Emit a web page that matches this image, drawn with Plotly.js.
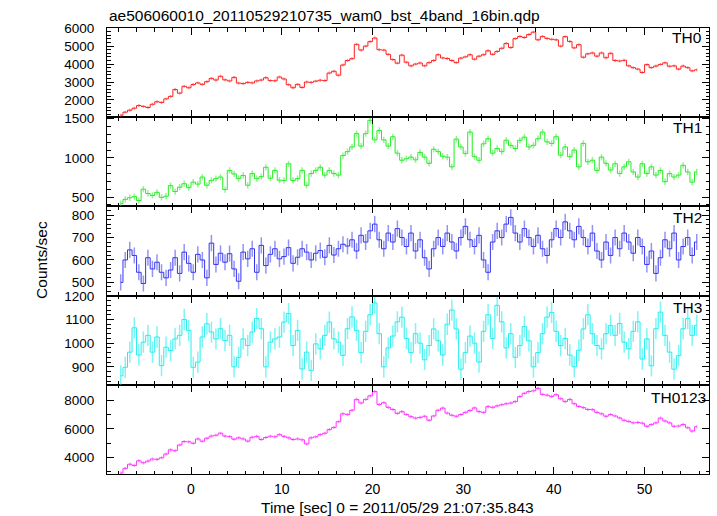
<!DOCTYPE html>
<html>
<head>
<meta charset="utf-8">
<script src="https://cdn.plot.ly/plotly-3.0.1.min.js"></script>
<style>html,body{margin:0;padding:0;background:#fff;}#plot{width:717px;height:516px;}</style>
</head>
<body>
<div id="plot"></div>
<script>
// Bin centres (sec), 0.5 s bins
var timeSec = [-7.75,-7.25,-6.75,-6.25,-5.75,-5.25,-4.75,-4.25,-3.75,-3.25,-2.75,-2.25,-1.75,-1.25,-0.75,-0.25,
0.25,0.75,1.25,1.75,2.25,2.75,3.25,3.75,4.25,4.75,5.25,5.75,6.25,6.75,7.25,7.75,
8.25,8.75,9.25,9.75,10.25,10.75,11.25,11.75,12.25,12.75,13.25,13.75,14.25,14.75,15.25,15.75,
16.25,16.75,17.25,17.75,18.25,18.75,19.25,19.75,20.25,20.75,21.25,21.75,22.25,22.75,23.25,23.75,
24.25,24.75,25.25,25.75,26.25,26.75,27.25,27.75,28.25,28.75,29.25,29.75,30.25,30.75,31.25,31.75,
32.25,32.75,33.25,33.75,34.25,34.75,35.25,35.75,36.25,36.75,37.25,37.75,38.25,38.75,39.25,39.75,
40.25,40.75,41.25,41.75,42.25,42.75,43.25,43.75,44.25,44.75,45.25,45.75,46.25,46.75,47.25,47.75,
48.25,48.75,49.25,49.75,50.25,50.75,51.25,51.75,52.25,52.75,53.25,53.75,54.25,54.75,55.25,55.75];

var th0 = [1150,1320,1430,1540,1690,1640,1580,1760,1900,1860,2060,2200,2580,2380,2760,2680,
2860,2950,2870,3020,3200,3110,3320,3120,3060,3260,2940,2910,2980,2950,3060,3110,
3240,3080,3070,3280,3170,2850,2680,2870,2700,3000,2980,3050,3100,3080,3500,3600,
3380,3950,4200,4300,5100,4780,5000,5250,5450,4800,4780,4540,4250,4050,4500,4100,
3900,4000,4060,3900,4080,4200,4520,4340,4310,4200,4080,4330,4400,4520,4270,4440,
4520,4740,4540,4700,4880,5150,4920,5420,5540,5480,5650,5780,5350,5540,5430,5380,
5350,5000,5530,5260,4900,5080,4380,4570,4620,4440,4620,4350,4600,4200,4170,4210,
3900,3800,3720,3530,3970,3800,3890,3980,4070,3880,3900,3720,3890,3800,3620,3680];

var th1 = [415,470,490,505,455,600,545,520,560,495,510,645,570,625,670,620,
690,665,755,650,712,735,755,595,840,795,735,775,650,800,735,760,
880,740,840,715,712,925,712,735,840,650,800,840,880,780,840,800,
780,1030,1080,1140,1310,1150,1310,1480,1230,1350,1230,1150,1270,1060,970,990,
1010,975,1070,1010,930,1110,1080,1020,1010,885,1240,1140,1055,1330,1015,970,
1180,1245,1060,1120,1080,1225,1160,1120,1225,1265,1140,1160,1245,1330,1205,1185,
1270,1035,1140,1015,1100,885,1185,950,970,840,1010,930,845,925,800,885,
950,820,755,925,800,885,780,840,695,800,755,780,905,820,690,820];

var th2 = [500,600,645,620,545,495,610,560,590,545,520,555,610,540,635,585,
545,625,600,520,675,580,630,590,628,560,505,635,605,650,545,665,
575,625,650,605,615,655,585,612,650,635,600,630,642,612,665,622,
650,670,662,690,640,710,680,730,760,690,650,720,680,740,700,660,
720,640,690,610,560,650,700,660,720,680,640,700,750,690,660,710,
600,545,680,730,700,760,790,720,680,740,700,660,710,650,620,690,
740,700,770,730,690,750,700,660,720,640,600,680,620,700,650,720,
680,630,700,660,580,640,540,610,690,650,720,600,660,700,620,680];

var th3 = [862,898,962,1065,950,1004,1033,962,1026,905,983,969,1018,1033,1100,1054,
898,920,1026,1082,1047,1018,1061,1011,1033,900,940,1018,990,1047,1104,1061,
900,1004,1018,1026,1089,1125,990,1054,891,962,885,997,976,1033,1089,1018,
1004,948,1061,1111,1054,960,1050,1120,1170,1040,900,980,1030,1090,1110,1020,
960,1040,1000,930,990,1060,1010,950,1080,1140,1060,890,960,1030,1000,920,
1050,1120,1020,1160,1090,980,1040,940,990,1070,1010,900,960,1040,1110,1130,
1050,990,1020,950,900,970,1060,1120,1040,990,976,1040,1075,1033,1083,1004,
976,1050,1090,933,1018,904,1061,1131,1033,962,890,947,1061,1104,1033,1075];

var th0123 = [2920,3250,3540,3450,3780,3640,3760,3900,3880,3990,4250,4540,4480,4880,5120,5100,
5000,5300,5140,5350,5500,5560,5700,5500,5460,5280,5380,5300,5150,5420,5480,5260,
5400,5490,5450,5600,5480,5380,5260,5300,5240,4950,5380,5450,5600,5700,5950,6100,
6500,7050,7000,7300,8050,7800,8050,8300,8600,7700,7820,7500,7350,7080,7200,7000,
6850,6750,6800,6880,6600,6900,7300,7450,7100,6950,6880,7000,7150,7280,7460,7200,
7150,7550,7500,7600,7680,7750,7800,7900,8250,8480,8600,8650,8820,8400,8350,8260,
8380,8100,7900,8050,7750,7560,7480,7350,7340,7150,7050,6880,7000,6900,6760,6600,
6520,6420,6450,6400,6180,6300,6420,6750,6550,6420,6180,6200,6300,6080,5850,6150];

var bandNames = ['TH0','TH1','TH2','TH3','TH0123'];
var bandErr = [80, 40, 36, 45, 110];   // typical 1-sigma rate error per band

var series = [th0, th1, th2, th3, th0123];
var colors = ['#ff2020','#22ee22','#3333ee','#22eeee','#ff33ff'];
var errColors = ['rgba(255,60,60,0.55)','rgba(40,230,40,0.5)','rgba(60,60,238,0.55)','rgba(40,238,238,0.6)','rgba(255,60,255,0.55)'];
// panel order top->bottom: TH0 (y5) ... TH0123 (y)
var yNames = ['y5','y4','y3','y2','y'];
var xNames = ['x5','x4','x3','x2','x'];
var yRanges = [[1040,6010],[380,1520],[441,839],[824,1201],[2860,9070]];
var yDticks = [1000,500,100,100,2000];
var yMinor = [200,100,20,20,1000];

var traces = series.map(function(v,k){
  return {
    x: timeSec, y: v, type:'scatter', mode:'lines',
    xaxis: xNames[k], yaxis: yNames[k],
    line:{color:colors[k], width:1, shape:'hvh'},
    error_y:{type:'constant', value:bandErr[k], width:0, thickness:1.5, color:errColors[k]},
    hoverinfo:'skip', showlegend:false
  };
});

var font = 'Liberation Sans, Arial, Helvetica, sans-serif';
function xax(anchor, labels){
  return {
    anchor: anchor, domain:[0,1], range:[-9.26,57.1], tick0:0, dtick:10,
    ticks:'inside', ticklen:7, tickwidth:1, tickcolor:'#000',
    minor:{dtick:2, ticks:'inside', ticklen:3.5, tickwidth:1, tickcolor:'#000'},
    showline:true, linecolor:'#000', linewidth:1, mirror:'allticks',
    showgrid:false, zeroline:false, showticklabels:labels,
    ticklabelstandoff:2,
    tickfont:{family:font, size:14, color:'#000'}
  };
}
function yax(k, anchor){
  var n = 4-k; // bottom panel index 0
  return {
    anchor: anchor, domain:[n*0.2, (n+1)*0.2], range:yRanges[k], dtick:yDticks[k], tick0:0,
    ticks:'inside', ticklen:7, tickwidth:1, tickcolor:'#000',
    minor:{dtick:yMinor[k], ticks:'inside', ticklen:3.5, tickwidth:1, tickcolor:'#000'},
    showline:true, linecolor:'#000', linewidth:1, mirror:'allticks',
    showgrid:false, zeroline:false, ticklabelstandoff:9,
    tickfont:{family:font, size:13.5, color:'#000'}
  };
}

var layout = {
  width:717, height:516,
  margin:{l:107, r:8, t:28, b:42, pad:0},
  paper_bgcolor:'#fff', plot_bgcolor:'#fff',
  font:{family:font, size:14, color:'#000'},
  showlegend:false,
  xaxis: xax('y', true),
  xaxis2: Object.assign(xax('y2', false), {matches:'x'}),
  xaxis3: Object.assign(xax('y3', false), {matches:'x'}),
  xaxis4: Object.assign(xax('y4', false), {matches:'x'}),
  xaxis5: Object.assign(xax('y5', false), {matches:'x'}),
  yaxis: yax(4,'x'),
  yaxis2: yax(3,'x2'),
  yaxis3: yax(2,'x3'),
  yaxis4: yax(1,'x4'),
  yaxis5: yax(0,'x5'),
  annotations: [
    {text:'ae506060010_20110529210735_wam0_bst_4band_16bin.qdp', xref:'paper', yref:'paper',
     x:0, y:1.029, xanchor:'left', yanchor:'middle', showarrow:false, font:{family:font, size:15.5}},
    {text:'Time [sec] 0 = 2011/05/29 21:07:35.843', xref:'paper', yref:'paper',
     x:0.4826, y:-0.0745, xanchor:'center', yanchor:'middle', showarrow:false, font:{family:font, size:15.5}},
    {text:'Counts/sec', xref:'paper', yref:'paper', textangle:-90,
     x:-0.108, y:0.48, xanchor:'center', yanchor:'middle', showarrow:false, font:{family:font, size:15.5}},
    {text:bandNames[0], xref:'paper', yref:'paper', x:0.9917, y:0.9787, xanchor:'right', yanchor:'middle', showarrow:false, font:{family:font, size:15.5}},
    {text:bandNames[1], xref:'paper', yref:'paper', x:0.9917, y:0.7769, xanchor:'right', yanchor:'middle', showarrow:false, font:{family:font, size:15.5}},
    {text:bandNames[2], xref:'paper', yref:'paper', x:0.9917, y:0.5751, xanchor:'right', yanchor:'middle', showarrow:false, font:{family:font, size:15.5}},
    {text:bandNames[3], xref:'paper', yref:'paper', x:0.9917, y:0.3744, xanchor:'right', yanchor:'middle', showarrow:false, font:{family:font, size:15.5}},
    {text:bandNames[4], xref:'paper', yref:'paper', x:0.998, y:0.1726, xanchor:'right', yanchor:'middle', showarrow:false, font:{family:font, size:15.5}}
  ]
};

Plotly.newPlot('plot', traces, layout, {staticPlot:true, displayModeBar:false});
</script>
</body>
</html>
